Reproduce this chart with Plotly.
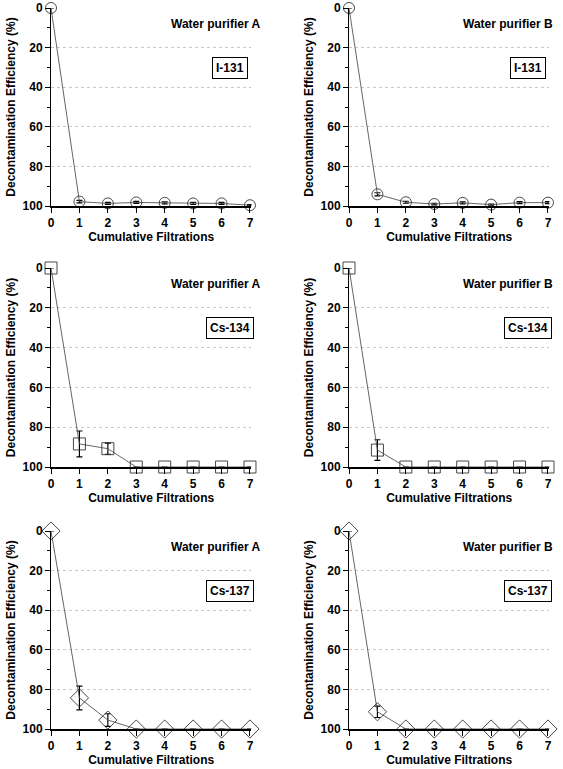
import plotly.graph_objects as go

filtrations = [0, 1, 2, 3, 4, 5, 6, 7]

i131_a = [0, 97.8, 98.7, 98.2, 98.4, 98.7, 98.7, 99.6]
i131_a_err = [0, 0.6, 0.5, 0.5, 0.5, 0.5, 0.5, 0.3]
i131_b = [0, 94.1, 98.1, 99.0, 98.4, 99.3, 98.3, 98.3]
i131_b_err = [0, 0.8, 0.5, 0.4, 0.5, 0.3, 0.5, 0.5]

cs134_a = [0, 88.4, 90.8, 100, 100, 100, 100, 100]
cs134_a_err = [0, 6.5, 2.8, 0, 0, 0, 0, 0]
cs134_b = [0, 91.5, 100, 100, 100, 100, 100, 100]
cs134_b_err = [0, 5.2, 0, 0, 0, 0, 0, 0]

cs137_a = [0, 84.3, 95.5, 100, 100, 100, 100, 100]
cs137_a_err = [0, 6.0, 3.2, 0, 0, 0, 0, 0]
cs137_b = [0, 91.3, 100, 100, 100, 100, 100, 100]
cs137_b_err = [0, 2.9, 0, 0, 0, 0, 0, 0]

purifiers = ["Water purifier A", "Water purifier B"]
isotopes = ["I-131", "Cs-134", "Cs-137"]
y_ticks = [0, 20, 40, 60, 80, 100]

panels = [
    [(i131_a, i131_a_err), (i131_b, i131_b_err)],
    [(cs134_a, cs134_a_err), (cs134_b, cs134_b_err)],
    [(cs137_a, cs137_a_err), (cs137_b, cs137_b_err)],
]
symbols = ["circle-open", "square-open", "diamond-open"]
sizes = [11, 12, 14]

W, H = 563, 769
row_px = [(8, 206), (268, 467), (531, 729)]
col_px = [(51, 251.4), (349, 549.4)]

FONT = "Liberation Sans, Arial, sans-serif"

fig = go.Figure()
annotations = []
for r in range(3):
    for c in range(2):
        idx = r * 2 + c + 1
        xa = "x" if idx == 1 else f"x{idx}"
        ya = "y" if idx == 1 else f"y{idx}"
        xk = "xaxis" if idx == 1 else f"xaxis{idx}"
        yk = "yaxis" if idx == 1 else f"yaxis{idx}"
        vals, errs = panels[r][c]
        fig.add_trace(go.Scatter(
            x=filtrations, y=vals, xaxis=xa, yaxis=ya,
            mode="lines+markers",
            line=dict(color="#555555", width=0.9),
            marker=dict(symbol=symbols[r], size=sizes[r], color="#333333",
                        line=dict(width=0.9, color="#333333")),
            error_y=dict(type="data", array=errs, visible=True,
                         color="black", thickness=1.2, width=3),
            cliponaxis=False, showlegend=False,
        ))
        top, bot = row_px[r]
        left, right = col_px[c]
        fig.layout[xk] = dict(
            domain=[left / W, right / W], anchor=ya, range=[0, 7.05],
            automargin=False,
            tickvals=filtrations, ticks="outside", ticklen=5, tickwidth=1,
            tickcolor="black", showline=True, linecolor="black", linewidth=1.5,
            showgrid=False, zeroline=False,
            showticklabels=True,
            tickfont=dict(family=FONT, size=12, color="black", weight="bold"),
            title=dict(text="Cumulative Filtrations",
                       font=dict(family=FONT, size=12, color="black", weight="bold"),
                       standoff=2),
        )
        fig.layout[yk] = dict(
            domain=[(H - bot) / H, (H - top) / H], anchor=xa,
            automargin=False,
            range=[100, 0], tickvals=y_ticks, ticks="outside", ticklen=5,
            tickwidth=1, tickcolor="black", showline=True, linecolor="black",
            linewidth=1, zeroline=False,
            showgrid=True, gridcolor="#c8c8c8", griddash="dot", gridwidth=1,
            minor=dict(tickvals=[10, 30, 50, 70, 90], ticks="outside", ticklen=3,
                       tickcolor="black", showgrid=False),
            tickfont=dict(family=FONT, size=12, color="black", weight="bold"),
            title=dict(text="Decontamination Efficiency (%)",
                       font=dict(family=FONT, size=12, color="black", weight="bold"),
                       standoff=4),
        )
        annotations.append(dict(
            text=purifiers[c], xref=f"{xa} domain", yref=f"{ya} domain",
            x=1.055 if c == 0 else 1.03, y=1 - 16 / 198, xanchor="right",
            yanchor="middle", showarrow=False,
            font=dict(family=FONT, size=12, color="black", weight="bold"),
        ))
        annotations.append(dict(
            text=isotopes[r], xref=f"{xa} domain", yref=f"{ya} domain",
            x=0.893, y=1 - 60 / 198, xanchor="center", yanchor="middle",
            showarrow=False, bordercolor="black", borderwidth=1, borderpad=3,
            bgcolor="white",
            font=dict(family=FONT, size=12, color="black", weight="bold"),
        ))

fig.update_layout(
    width=W, height=H, margin=dict(l=0, r=0, t=0, b=0, autoexpand=False),
    paper_bgcolor="white", plot_bgcolor="white",
    annotations=annotations, showlegend=False,
)

fig.write_html(
    "out.html",
    config={"displayModeBar": False},
    post_script="document.body.style.margin='0';document.body.style.overflow='hidden';",
)
